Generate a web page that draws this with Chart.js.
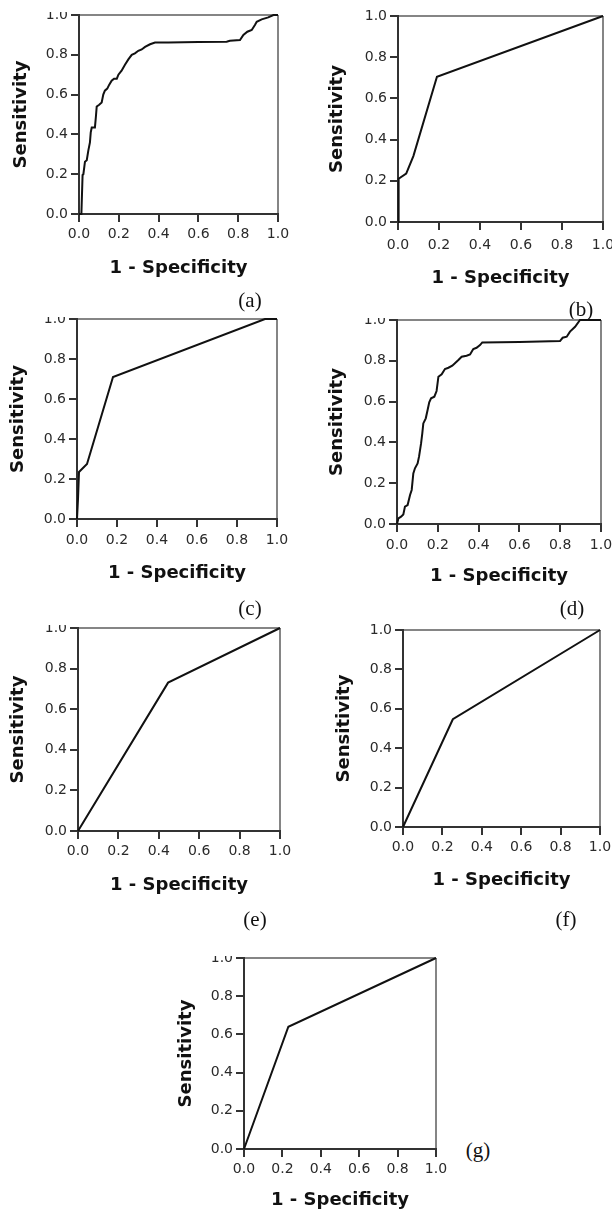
<!DOCTYPE html>
<html>
<head>
<meta charset="utf-8">
<script src="https://cdn.jsdelivr.net/npm/chart.js@4/dist/chart.umd.min.js"></script>
<style>
  html, body { margin: 0; padding: 0; background: #fff; }
  body { width: 612px; height: 1213px; position: relative; overflow: hidden; }
  canvas { position: absolute; }
  .lbl { position: absolute; font-family: "Liberation Serif", "Times New Roman", serif; font-size: 21px; color: #111; transform: translate(-50%, -50%); white-space: nowrap; }
</style>
</head>
<body>
<script>
// tick labels shared by both axes
const tickLabels = ['0.0', '0.2', '0.4', '0.6', '0.8', '1.0'];
const panelLabels = ['(a)', '(b)', '(c)', '(d)', '(e)', '(f)', '(g)'];

// (a)
const aX = [0, 0.012, 0.018, 0.022, 0.03, 0.039, 0.047, 0.055, 0.059, 0.064, 0.08, 0.085, 0.089, 0.1, 0.114, 0.122, 0.13, 0.142, 0.152, 0.164, 0.176, 0.19, 0.198, 0.214, 0.231, 0.248, 0.265, 0.281, 0.298, 0.315, 0.332, 0.357, 0.382, 0.45, 0.6, 0.742, 0.758, 0.809, 0.826, 0.846, 0.868, 0.884, 0.893, 0.918, 0.951, 0.977, 1];
const aY = [0, 0, 0.196, 0.2, 0.263, 0.27, 0.32, 0.36, 0.41, 0.435, 0.435, 0.49, 0.54, 0.548, 0.56, 0.6, 0.62, 0.63, 0.65, 0.67, 0.68, 0.68, 0.70, 0.72, 0.75, 0.777, 0.80, 0.807, 0.82, 0.827, 0.84, 0.853, 0.862, 0.862, 0.864, 0.866, 0.871, 0.874, 0.9, 0.916, 0.925, 0.95, 0.966, 0.978, 0.988, 1, 1];
// (b)
const bX = [0, 0.003, 0.04, 0.075, 0.19, 1];
const bY = [0, 0.21, 0.235, 0.32, 0.705, 1];
// (c)
const cX = [0, 0.005, 0.01, 0.05, 0.18, 0.94, 1];
const cY = [0, 0.1, 0.235, 0.275, 0.71, 1, 1];
// (d)
const dX = [0, 0.007, 0.02, 0.031, 0.039, 0.052, 0.064, 0.072, 0.08, 0.088, 0.101, 0.108, 0.118, 0.124, 0.129, 0.141, 0.15, 0.158, 0.167, 0.183, 0.194, 0.203, 0.219, 0.235, 0.252, 0.271, 0.284, 0.301, 0.317, 0.341, 0.358, 0.374, 0.39, 0.407, 0.418, 0.6, 0.799, 0.812, 0.832, 0.848, 0.873, 0.897, 1];
const dY = [0, 0.028, 0.036, 0.047, 0.085, 0.093, 0.142, 0.167, 0.248, 0.273, 0.297, 0.33, 0.395, 0.444, 0.493, 0.518, 0.559, 0.597, 0.616, 0.624, 0.652, 0.722, 0.734, 0.760, 0.766, 0.776, 0.788, 0.804, 0.82, 0.825, 0.831, 0.858, 0.864, 0.877, 0.89, 0.892, 0.897, 0.913, 0.918, 0.943, 0.967, 1, 1];
// (e)
const eX = [0, 0.446, 1];
const eY = [0, 0.731, 1];
// (f)
const fX = [0, 0.253, 1];
const fY = [0, 0.547, 1];
// (g)
const gX = [0, 0.231, 1];
const gY = [0, 0.64, 1];

const seriesX = [aX, bX, cX, dX, eX, fX, gX];
const seriesY = [aY, bY, cY, dY, eY, fY, gY];

// where each plot box sits on the page: left, top, width, height,
// y title offset, x tick label offset, x title offset, top padding
const boxes = [
  [79, 15, 199, 199, 56, 20, 56, 3],
  [398, 16, 205, 206, 59, 23, 58, 10],
  [77, 319, 200, 200, 57, 21, 56, 2],
  [397, 320, 204, 204, 58, 21, 54, 2],
  [78, 628, 202, 203, 58, 20, 56, 3],
  [403, 630, 197, 197, 57, 20, 55, 10],
  [244, 958, 192, 191, 56, 20, 53, 2]
];
const labelPos = [[250, 300], [581, 309], [250, 608], [572, 608], [255, 919], [566, 919], [478, 1150]];

const W = 80, H = 80, padR = 16;
const tickFont = { family: 'DejaVu Sans', size: 14 };
const titleFont = { family: 'DejaVu Sans', size: 18, weight: 'bold' };

function drawPanel(i) {
  const [left, top, pw, ph, yOff, xlOff, xtOff, padT] = boxes[i];
  const canvas = document.createElement('canvas');
  canvas.width = W + pw + padR;
  canvas.height = padT + ph + H;
  canvas.style.left = (left - W) + 'px';
  canvas.style.top = (top - padT) + 'px';
  document.body.appendChild(canvas);

  const points = seriesX[i].map((x, k) => ({ x: x, y: seriesY[i][k] }));
  // only the last grid line is kept, it closes the frame on top / right
  const edge = ctx => ctx.index === tickLabels.length - 1 ? '#858585' : 'rgba(0,0,0,0)';

  new Chart(canvas, {
    type: 'scatter',
    data: {
      datasets: [{
        data: points,
        showLine: true,
        borderColor: '#111',
        borderWidth: 2,
        pointRadius: 0,
        tension: 0,
        clip: false
      }]
    },
    options: {
      responsive: false,
      animation: false,
      devicePixelRatio: 1,
      layout: { padding: { top: padT, right: padR, left: 0, bottom: 0 } },
      plugins: { legend: { display: false }, tooltip: { enabled: false } },
      scales: {
        x: {
          type: 'linear', min: 0, max: 1,
          ticks: { stepSize: 0.2, font: tickFont, color: '#2a2a2a', padding: xlOff - 8 - 8.4, maxRotation: 0, callback: (v, k) => tickLabels[k] },
          grid: { color: edge, lineWidth: 2, tickColor: '#333', tickLength: 8 },
          border: { color: '#333', width: 2 },
          title: { display: true, text: '1 - Specificity', font: titleFont, color: '#111', padding: { top: 0, bottom: H - 10.8 - (xtOff - 2) } },
          afterFit: s => { s.height = H; s.paddingLeft = 0; s.paddingRight = 0; }
        },
        y: {
          type: 'linear', min: 0, max: 1,
          ticks: { stepSize: 0.2, font: tickFont, color: '#2a2a2a', padding: 3, callback: (v, k) => tickLabels[k] },
          grid: { color: edge, lineWidth: 2, tickColor: '#333', tickLength: 8 },
          border: { color: '#333', width: 2 },
          title: { display: true, text: 'Sensitivity', font: titleFont, color: '#111', padding: { top: W - yOff - 2 - 10.8, bottom: 0 } },
          afterFit: s => { s.width = W; s.paddingTop = 0; s.paddingBottom = 0; }
        }
      }
    }
  });
}

for (let i = 0; i < boxes.length; i++) {
  drawPanel(i);
  const d = document.createElement('div');
  d.className = 'lbl';
  d.textContent = panelLabels[i];
  d.style.left = labelPos[i][0] + 'px';
  d.style.top = labelPos[i][1] + 'px';
  document.body.appendChild(d);
}
</script>
</body>
</html>
